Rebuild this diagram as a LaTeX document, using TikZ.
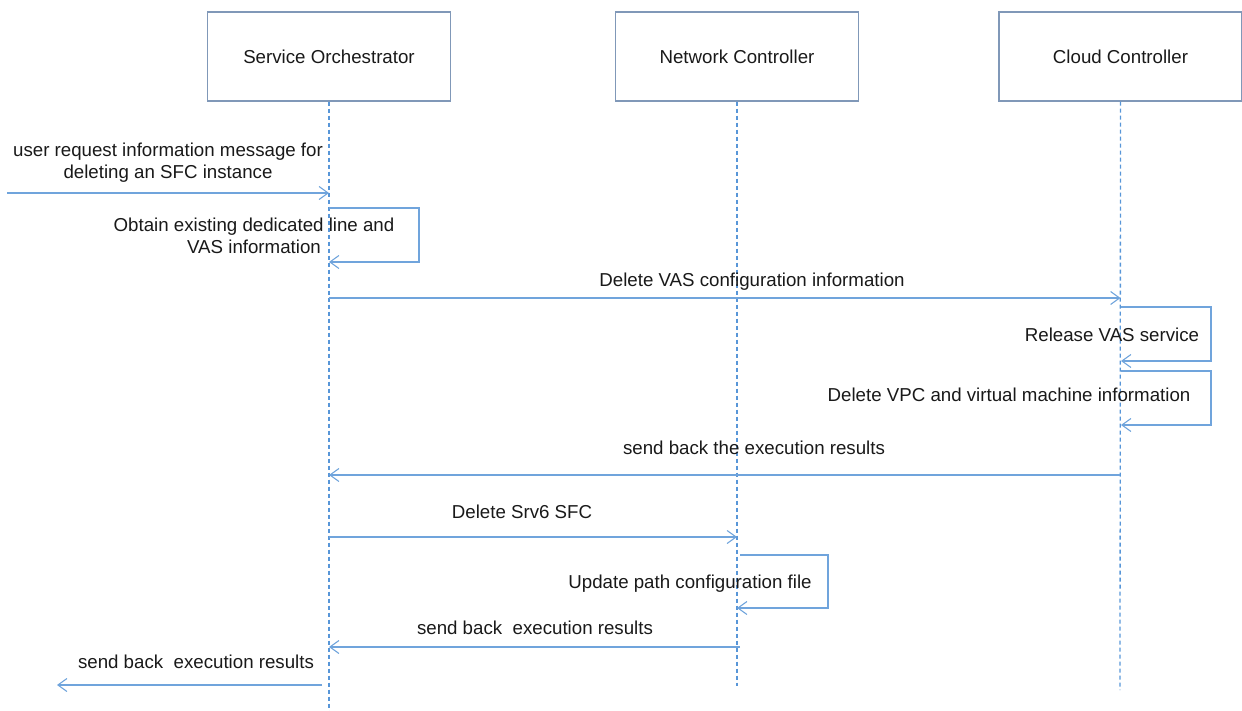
\documentclass[tikz,border=0pt]{standalone}
\usepackage{fontspec}
\setmainfont{Liberation Sans}
\usetikzlibrary{arrows.meta}
\definecolor{boxline}{RGB}{128,152,184}
\definecolor{lifeline}{RGB}{88,150,216}
\definecolor{msgline}{RGB}{112,164,220}
\definecolor{txt}{RGB}{25,25,25}
\tikzset{
  x=1pt, y=-1pt,
  party/.style={draw=boxline, line width=1.1pt, minimum width=243pt, minimum height=89pt,
    inner sep=0pt, font=\fontsize{18.7}{22}\selectfont, text=txt},
  life/.style={draw=lifeline, line width=1.3pt, dash pattern=on 4pt off 3pt},
  msg/.style={draw=msgline, line width=1.2pt, -{Straight Barb[length=9pt,width=13pt,line width=1.1pt]}},
  lbl/.style={font=\fontsize{18.7}{22}\selectfont, text=txt, inner sep=0pt, align=center}
}
\begin{document}
\begin{tikzpicture}
\useasboundingbox (0,0) rectangle (1242,711);

% participants
\node[party] (so) at (329,56.5) {Service Orchestrator};
\node[party] (nc) at (737,56.5) {Network Controller};
\node[party] (cc) at (1120.5,56.5) {Cloud Controller};

% lifelines
\coordinate (soEnd) at (329,711);
\coordinate (ncEnd) at (737,686);
\coordinate (ccEnd) at (1120,690);
\draw[life] (so.south) -- (soEnd);
\draw[life] (nc.south) -- (ncEnd);
\draw[life] (cc.south) -- (ccEnd);

% 1: incoming request
\coordinate (in1) at (7,193);
\draw[msg] (in1) -- (so |- in1);
\node[lbl] (l1) at (168,163) {user request information message for\\deleting an SFC instance};

% 2: self call on the orchestrator
\coordinate (s2a) at (329,208);
\coordinate (s2b) at (419,208);
\coordinate (s2c) at (419,262);
\coordinate (s2d) at (329,262);
\draw[msg] (s2a) -- (s2b) -- (s2c) -- (s2d);
\node[lbl] (l2) at (254,236) {Obtain existing dedicated line and\\VAS information};

% 3: orchestrator to cloud controller
\coordinate (m3) at (329,298);
\draw[msg] (m3) -- (cc |- m3);
\node[lbl] (l3) at (752,282) {Delete VAS configuration information};

% 4: release VAS service
\coordinate (s4a) at (1121,307);
\coordinate (s4b) at (1211,307);
\coordinate (s4c) at (1211,361);
\coordinate (s4d) at (1121,361);
\draw[msg] (s4a) -- (s4b) -- (s4c) -- (s4d);
\node[lbl] (l4) at (1112,335) {Release VAS service};

% 5: delete VPC and VM information
\coordinate (s5a) at (1121,371);
\coordinate (s5b) at (1211,371);
\coordinate (s5c) at (1211,425);
\coordinate (s5d) at (1121,425);
\draw[msg] (s5a) -- (s5b) -- (s5c) -- (s5d);
\node[lbl] (l5) at (1009,395) {Delete VPC and virtual machine information};

% 6: results back to the orchestrator
\coordinate (m6) at (1120,475);
\draw[msg] (m6) -- (so |- m6);
\node[lbl] (l6) at (754,448) {send back the execution results};

% 7: orchestrator to network controller
\coordinate (m7) at (329,537);
\draw[msg] (m7) -- (nc |- m7);
\node[lbl] (l7) at (522,512) {Delete Srv6 SFC};

% 8: update path configuration
\coordinate (s8a) at (740,555);
\coordinate (s8b) at (828,555);
\coordinate (s8c) at (828,608);
\coordinate (s8d) at (737,608);
\draw[msg] (s8a) -- (s8b) -- (s8c) -- (s8d);
\node[lbl] (l8) at (690,584) {Update path configuration file};

% 9: network controller results
\coordinate (m9) at (740,647);
\draw[msg] (m9) -- (so |- m9);
\node[lbl] (l9) at (535,628) {send back\ \ execution results};

% 10: final response
\coordinate (m10) at (322,685);
\coordinate (out10) at (57,685);
\draw[msg] (m10) -- (out10);
\node[lbl] (l10) at (196,662) {send back\ \ execution results};
\end{tikzpicture}
\end{document}
